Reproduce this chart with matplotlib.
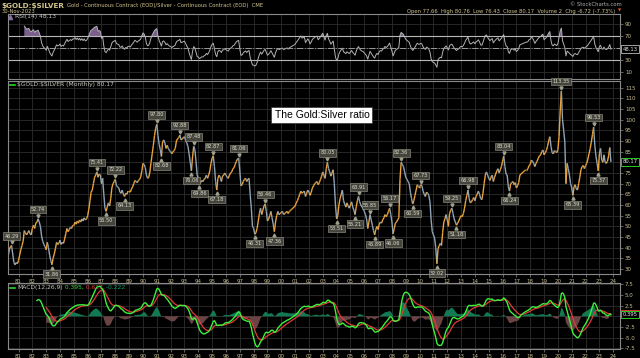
from matplotlib import pyplot as plt
from matplotlib import transforms
from matplotlib.collections import LineCollection
import numpy as np
import pandas as pd

# monthly close of $GOLD:$SILVER (Apr 1980 .. Nov 2023)
ratio_1980s = [
    36, 39, 40.5, 41, 37, 33, 32, 33, 32.5,                          # 1980 (Apr-Dec)
    34, 36.5, 39, 41, 43, 48, 47, 46, 47, 48, 46.5, 46,              # 1981
    49, 50.5, 49, 51.5, 52, 53.5, 52, 50, 45.5, 43, 41.5, 40.5,      # 1982
    39, 42.5, 40, 36.5, 34, 32, 35, 37, 39.5, 42.5, 41.5, 42,        # 1983
    43.5, 41.5, 42.5, 42, 44, 46.5, 49, 47.5, 48.5, 49.5, 49, 50.5,  # 1984
    50.5, 52, 51, 52.5, 51.5, 53, 52, 53.5, 52.5, 54, 53, 53.5,      # 1985
    55, 58, 62, 66, 67, 70, 73, 74, 75.5, 73, 74.5, 74,              # 1986
    70, 72.5, 65, 58.5, 57, 59, 61, 59.5, 63, 68, 70, 71,            # 1987
    72, 69, 68.5, 68, 66, 65.5, 67, 65, 64, 65.5, 65, 66.5,          # 1988
    66.5, 66, 67.5, 68.5, 70, 71.5, 71, 70.5, 71.5, 72, 73, 76,      # 1989
]
ratio_1990s = [
    79.5, 79, 77.5, 74, 72.5, 73, 75.5, 80, 84, 88, 92.5, 96,        # 1990
    97.8, 92.5, 88.5, 86, 82.7, 89.5, 90.5, 89, 86.5, 88, 86.5, 85.5,  # 1991
    85, 84, 85, 85.5, 86.5, 90, 91, 91.5, 92.8, 90.5, 91, 91.5,      # 1992
    92, 90.5, 89, 87.5, 84, 80, 76, 82.5, 87.5, 86, 80.5, 74,        # 1993
    72.5, 69.8, 70.5, 71.5, 71, 72, 72.5, 74, 72.5, 74, 76, 79.5,    # 1994
    82, 83, 78, 71, 67, 72.5, 74, 73, 71, 73.5, 74, 75,              # 1995
    74, 73, 72.5, 74, 75, 75.5, 77, 77.5, 79, 80.5, 81.5, 82,        # 1996
    76, 69, 69.5, 71, 72, 72.5, 71, 72, 72.5, 65, 58.5, 50,          # 1997
    49, 46.3, 47, 49, 52.5, 56, 58.5, 55.5, 57.5, 59.5, 60.5, 57,    # 1998
    52.5, 53.5, 55, 57, 54, 51, 47.5, 52, 55, 57, 55.5, 56,          # 1999
]
ratio_2000s = [
    56.5, 57, 55.5, 56, 56.5, 57, 56, 57, 57.5, 58, 58.5, 59,        # 2000
    59.5, 61, 62, 63.5, 65, 66.5, 65.5, 66, 66.5, 64, 65.5, 67,      # 2001
    66, 64.5, 66, 68, 69, 70, 70.5, 71, 69.5, 70.5, 72, 73.5,        # 2002
    75.5, 74, 72.5, 77, 80, 77, 75.5, 73.5, 75, 76.5, 70, 60,        # 2003
    53.5, 55, 60, 63, 65, 67, 62, 60.5, 59, 61, 59.5, 58.5,          # 2004
    60, 61.5, 59, 57.5, 55.5, 59, 62, 64, 61.5, 60, 59, 58.5,        # 2005
    57, 55.5, 53.5, 49, 52, 55.5, 53, 50.5, 48, 46, 48.5, 50,        # 2006
    48.5, 51, 52, 51.5, 53, 54, 55.5, 54.5, 55.5, 57, 58.5, 55.5,    # 2007
    52, 46.5, 49, 51.5, 52, 53, 54, 72, 80, 79, 78, 75.5,            # 2008
    73, 72, 71, 70, 66, 63, 60.5, 62, 64.5, 67, 69.5, 68.5,          # 2009
]
ratio_2010s = [
    68.5, 69.5, 69, 66.5, 65, 64, 66, 65.5, 64.5, 61.5, 53, 47.5,    # 2010
    46, 44.5, 40, 32.5, 39.5, 41, 42, 41, 47, 52, 53.5, 55.5,        # 2011
    53, 50, 56, 57.5, 58.5, 56, 53.5, 52, 50.5, 51.5, 52.5, 54,      # 2012
    55, 54.5, 56, 58.5, 62, 64.5, 67, 63, 61, 61.5, 62.5, 63.5,      # 2013
    62, 64, 65, 66.5, 65, 63, 62.5, 65.5, 70, 74, 75.5, 74,          # 2014
    72.5, 71.5, 73, 74, 71, 73, 74.5, 76, 77, 75, 76.5, 78,          # 2015
    80.5, 83, 78, 74.5, 74, 68.5, 66.5, 70, 70.5, 71, 69.5, 70.5,    # 2016
    68, 69, 70.5, 74, 74.5, 75, 75.5, 76, 76.5, 76.5, 77, 78.5,      # 2017
    79, 81, 80.5, 79.5, 78, 79.5, 80.5, 82, 83, 83.5, 85, 85.8,      # 2018
    83.5, 84.5, 85.5, 87.5, 90, 92, 87.5, 84.5, 84, 85.5, 85, 84.5,  # 2019
]
ratio_2020s = [
    86, 92, 104, 113.4, 100, 95, 89.5, 70, 79.5, 77, 74, 70,         # 2020
    68, 64.5, 68.5, 69.5, 67.5, 67, 70, 73, 76.5, 78, 78.5, 77,      # 2021
    78.5, 79.5, 81.5, 84, 86.5, 89.5, 93, 96.5, 88, 83, 79.5, 76,    # 2022
    84, 86.5, 81, 80, 83.5, 80, 79.5, 80.5, 83, 86.89, 80.17,        # 2023 (Jan-Nov)
]

# peak / trough labels printed on the chart
label_dates = ["1980-07", "1982-07", "1983-05", "1986-09", "1987-05", "1988-01",
               "1988-08", "1991-01", "1991-05", "1992-09", "1993-07", "1993-09",
               "1994-02", "1995-02", "1995-05", "1996-12", "1998-02", "1998-11",
               "1999-07", "2003-05", "2004-01", "2005-05", "2005-08", "2006-06",
               "2006-10", "2007-11", "2008-02", "2008-09", "2009-07", "2010-03",
               "2011-04", "2012-05", "2012-10", "2013-07", "2016-02", "2016-07",
               "2020-04", "2021-02", "2022-08", "2022-12"]
label_texts = ["46.29", "52.74", "31.86", "75.41", "56.50", "72.22",
               "64.13", "97.80", "82.68", "92.88", "76.06", "87.48",
               "69.86", "82.87", "67.18", "81.06", "46.31", "56.46",
               "47.36", "80.05", "53.51", "55.21", "63.91", "55.85",
               "45.89", "56.17", "46.06", "82.36", "60.59", "67.73",
               "32.02", "59.25", "51.18", "66.98", "83.04", "66.24",
               "113.35", "65.39", "96.53", "75.37"]
label_sides = ["hi", "hi", "lo", "hi", "lo", "hi",
               "lo", "hi", "lo", "hi", "lo", "hi",
               "lo", "hi", "lo", "hi", "lo", "hi",
               "lo", "hi", "lo", "lo", "hi", "hi",
               "lo", "hi", "lo", "hi", "lo", "hi",
               "lo", "hi", "lo", "hi", "hi", "lo",
               "hi", "lo", "hi", "lo"]

years = list(range(1981, 2025))
year_labels = [f"{y % 100:02d}" for y in years]

ratio = np.array(ratio_1980s + ratio_1990s + ratio_2000s + ratio_2010s + ratio_2020s, dtype=float)
dates = pd.date_range("1980-04-01", periods=len(ratio), freq="MS")
t = np.array(dates.year + (dates.month - 1) / 12.0)

# indicators
s = pd.Series(ratio)
delta = s.diff()
gain = delta.clip(lower=0).ewm(alpha=1 / 14, adjust=False).mean()
loss = (-delta.clip(upper=0)).ewm(alpha=1 / 14, adjust=False).mean()
rsi = (100 - 100 / (1 + gain / loss)).to_numpy()
rsi[:14] = np.nan
ema12 = s.ewm(span=12, adjust=False).mean()
ema26 = s.ewm(span=26, adjust=False).mean()
macd = (ema12 - ema26).to_numpy()
signal = pd.Series(macd).ewm(span=9, adjust=False).mean().to_numpy()
hist = macd - signal
macd[:25] = np.nan
signal[:33] = np.nan
hist[:33] = np.nan

bg = "black"
grid_col = "#2e2e2e"
frame_col = "#8a8a8a"
tick_col = "#c9be92"
up_col = "#eaa33a"
down_col = "#8fa4b6"
small = ["Liberation Sans Narrow", "DejaVu Sans"]

fig = plt.figure(figsize=(6.4, 3.58), dpi=100, facecolor=bg)
L, W = 8 / 640, 612 / 640
ax_rsi = fig.add_axes([L, 1 - 79 / 358, W, 65 / 358])
ax = fig.add_axes([L, 1 - 274 / 358, W, 193 / 358])
ax_macd = fig.add_axes([L, 1 - 349 / 358, W, 66 / 358])

for a in (ax_rsi, ax, ax_macd):
    a.set_facecolor(bg)
    for sp in a.spines.values():
        sp.set_color(frame_col)
        sp.set_linewidth(0.8)
    a.set_xlim(1980.24, 2024.49)
    a.set_xticks(years)
    a.yaxis.tick_right()
    a.tick_params(axis="both", colors=frame_col, labelcolor=tick_col, labelsize=4,
                  length=2, width=0.5, pad=1.5)
    a.grid(True, color=grid_col, linewidth=0.6)
    a.set_axisbelow(True)

ax_rsi.set_xticklabels([])
ax_rsi.tick_params(axis="x", length=0)
ax.set_xticklabels(year_labels, family=small)
ax_macd.set_xticklabels(year_labels, family=small)

# main price panel
segs = np.stack([np.column_stack([t[:-1], ratio[:-1]]), np.column_stack([t[1:], ratio[1:]])], axis=1)
cols = [up_col if b >= a_ else down_col for a_, b in zip(ratio[:-1], ratio[1:])]
ax.add_collection(LineCollection(segs, colors=cols, linewidths=1.0))
ax.set_ylim(27.66, 118.1)
main_ticks = list(range(30, 116, 5))
ax.set_yticks(main_ticks)
ax.set_yticklabels(["" if v == 80 else str(v) for v in main_ticks], family=small)

for d, txt, side in zip(label_dates, label_texts, label_sides):
    i = dates.get_loc(pd.Timestamp(d + "-01"))
    lo, hi = max(i - 2, 0), min(i + 3, len(ratio))
    win = ratio[lo:hi]
    j = lo + (np.argmax(win) if side == "hi" else np.argmin(win))
    off = 5 if side == "hi" else -5
    ax.annotate(txt, xy=(t[j], ratio[j]), xytext=(0, off), textcoords="offset points",
                ha="center", va="bottom" if side == "hi" else "top",
                fontsize=3.6, color="#dcdccc", family=small,
                bbox=dict(boxstyle="square,pad=0.25", fc="#45453e", ec="#a09f8c", lw=0.4))
    mk = "v" if side == "hi" else "^"
    tr = transforms.offset_copy(ax.transData, fig=fig, x=0, y=2.2 if side == "hi" else -2.2, units="points")
    ax.plot(t[j], ratio[j], marker=mk, markersize=2.2, color="#a09f8c", transform=tr, lw=0)

ax.plot([0.003, 0.012], [0.98, 0.98], color="#22dd22", lw=1.2, transform=ax.transAxes)
ax.text(0.015, 0.98, r"\$GOLD:\$SILVER (Monthly) 80.17", transform=ax.transAxes, fontsize=4.3,
        color="#c8c8c0", va="center", family=small)
ax.text(0.513, 0.824, "The Gold:Silver ratio", transform=ax.transAxes, fontsize=7.5,
        color="black", ha="center", va="center", family="Liberation Sans",
        bbox=dict(boxstyle="square,pad=0.3", fc="white", ec="#333333", lw=0.5))
ax.text(1.004, 80.17, "80.17", transform=transforms.blended_transform_factory(ax.transAxes, ax.transData),
        fontsize=3.8, color="#e0e0e0", va="center", ha="left", family=small,
        bbox=dict(boxstyle="square,pad=0.25", fc="black", ec="#22cc22", lw=0.7))

# RSI panel
ax_rsi.plot(t, rsi, color="#b2b2b2", lw=0.7)
ax_rsi.fill_between(t, rsi, 70, where=rsi > 70, interpolate=True, color="#7a5f8c", lw=0)
ax_rsi.axhline(70, color="#b8b8b8", lw=0.8)
ax_rsi.axhline(30, color="#b8b8b8", lw=0.8)
ax_rsi.axhline(50, color="#9a9a9a", lw=0.7, linestyle="-.")
ax_rsi.set_ylim(-1.67, 106.7)
ax_rsi.set_yticks([10, 30, 50, 70, 90])
ax_rsi.set_yticklabels(["10", "30", "", "70", "90"], family=small)
ax_rsi.plot([0.004], [0.955], marker="^", color="#8a6aa0", markersize=3, transform=ax_rsi.transAxes)
ax_rsi.text(0.011, 0.955, "RSI(14) 48.13", transform=ax_rsi.transAxes, fontsize=4.3,
            color="#c8c8c0", va="center", family=small)
ax_rsi.text(1.004, 48.13, "48.13", transform=transforms.blended_transform_factory(ax_rsi.transAxes, ax_rsi.transData),
            fontsize=3.8, color="#e0e0e0", va="center", ha="left", family=small,
            bbox=dict(boxstyle="square,pad=0.25", fc="black", ec="#a0a0a0", lw=0.7))

# MACD panel
ax_macd.fill_between(t, hist, 0, where=hist > 0, interpolate=True, color="#127a52", lw=0)
ax_macd.fill_between(t, hist, 0, where=hist < 0, interpolate=True, color="#6a4444", lw=0)
ax_macd.plot(t, signal, color="#e03a3a", lw=0.9)
ax_macd.plot(t, macd, color="#3cf03c", lw=1.0)
ax_macd.set_ylim(-7.66, 7.8)
ax_macd.set_yticks([-7.5, -5, -2.5, 0, 2.5, 5, 7.5])
ax_macd.set_yticklabels(["-7.5", "-5.0", "-2.5", "", "2.5", "5.0", "7.5"], family=small)
ax_macd.plot([0.003, 0.012], [0.93, 0.93], color="#22dd22", lw=1.2, transform=ax_macd.transAxes)
fig.canvas.draw()
x0 = 0.015
for txt, c in [("MACD(12,26,9)", "#c8c8c0"), (" 0.395,", "#33dd33"), (" 0.617,", "#dd3333"), (" -0.222", "#13a070")]:
    tx = ax_macd.text(x0, 0.93, txt, transform=ax_macd.transAxes, fontsize=4.3, color=c,
                      va="center", family=small)
    bb = tx.get_window_extent(renderer=fig.canvas.get_renderer()).transformed(ax_macd.transAxes.inverted())
    x0 = bb.x1
mtr = transforms.blended_transform_factory(ax_macd.transAxes, ax_macd.transData)
ax_macd.text(1.004, 0.617, "0.617", transform=mtr, fontsize=3.8, color="#e0e0e0", va="center", ha="left",
             family=small, bbox=dict(boxstyle="square,pad=0.25", fc="black", ec="#dd3333", lw=0.7))
ax_macd.text(1.004, 0.395, "0.395", transform=mtr, fontsize=3.8, color="#e0e0e0", va="center", ha="left",
             family=small, bbox=dict(boxstyle="square,pad=0.25", fc="black", ec="#22cc22", lw=0.7))

# header
title = fig.text(0.003, 1 - 6 / 358, r"\$GOLD:\$SILVER", fontsize=5.2, fontweight="bold",
                 color="#d2c48c", va="center", family=small)
tb = title.get_window_extent(renderer=fig.canvas.get_renderer()).transformed(fig.transFigure.inverted())
fig.text(tb.x1 + 0.004, 1 - 6 / 358,
         "Gold - Continuous Contract (EOD)/Silver - Continuous Contract (EOD)  CME",
         fontsize=3.8, color="#d2c48c", va="center", family=small)
fig.text(0.003, 1 - 11.5 / 358, "30-Nov-2023", fontsize=3.8, color="#d2c48c", va="center", family=small)
fig.text(0.972, 1 - 4.5 / 358, "\u00a9 StockCharts.com", fontsize=3.8, color="#b0b0b0", va="center",
         ha="right", family=small)
fig.text(0.962, 1 - 11 / 358, "Open 77.66  High 80.76  Low 76.43  Close 80.17  Volume 2  Chg -6.72 (-7.73%)",
         fontsize=3.8, color="#d2c48c", va="center", ha="right", family=small)
fig.text(0.966, 1 - 11 / 358, "\u25bc", fontsize=3, color="#e06020", va="center", ha="left")

fig.savefig("out.png", dpi=100, facecolor=bg)
